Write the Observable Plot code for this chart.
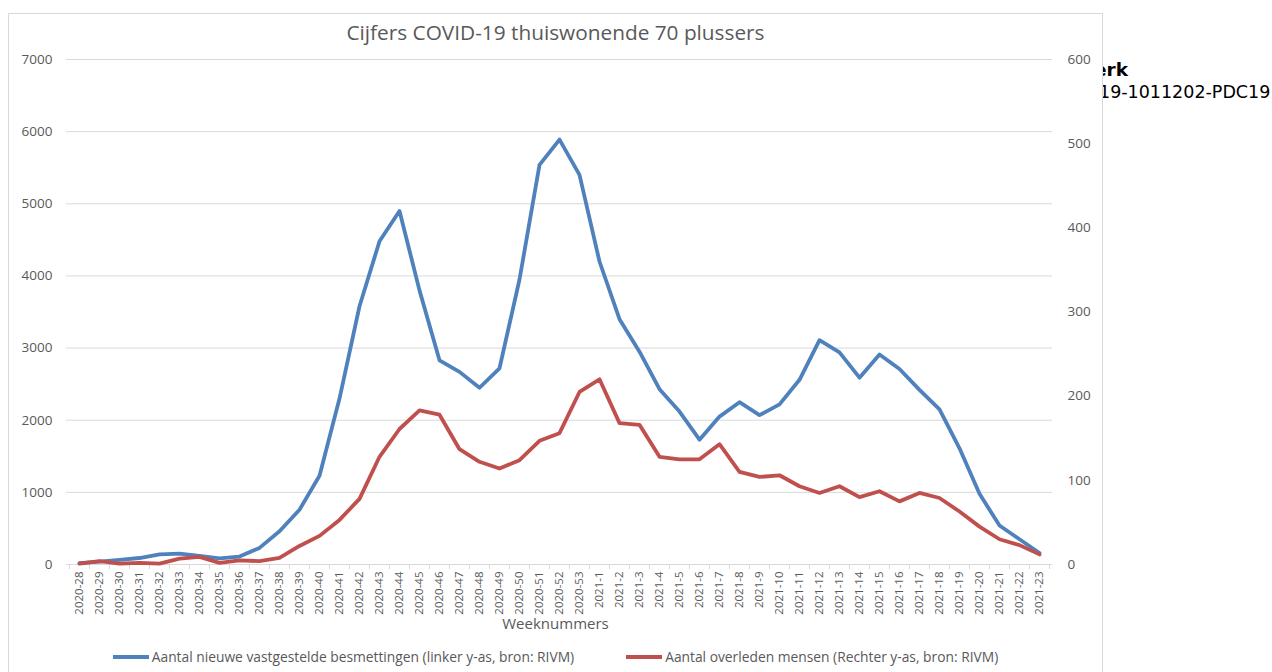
<!DOCTYPE html>
<html>
<head>
<meta charset="utf-8">
<script src="https://cdn.jsdelivr.net/npm/d3@7"></script>
<script src="https://cdn.jsdelivr.net/npm/@observablehq/plot@0.6"></script>
<style>
  html, body { margin: 0; padding: 0; background: #fff; }
  body { width: 1272px; height: 672px; position: relative; overflow: hidden; font-family: "Open Sans", sans-serif; }
  .bg1 { position: absolute; left: 1094px; top: 59px; font-family: "DejaVu Sans", sans-serif; font-weight: bold; font-size: 18.5px; color: #000; }
  .bg2 { position: absolute; left: 1099px; top: 82px; font-family: "DejaVu Sans", sans-serif; font-size: 17.5px; color: #000; }
  #frame { position: absolute; left: 8px; top: 13px; width: 1093px; height: 700px; border: 1px solid #d9d9d9; background: #fff; z-index: 2; }
  #title { position: absolute; left: 0; top: 5px; width: 100%; text-align: center; font-size: 20.8px; line-height: 26px; color: #595959; }
  #chart { position: absolute; left: 0; top: 31px; }
  #xlabel { position: absolute; left: 0; top: 599px; width: 100%; text-align: center; font-size: 15px; line-height: 20px; color: #595959; }
  #legend { position: absolute; left: 0; top: 634px; width: 100%; display: flex; justify-content: center; gap: 52px; font-size: 13.8px; line-height: 18px; color: #595959; }
  .item { display: flex; align-items: center; }
  .sw { display: inline-block; width: 36px; height: 4px; margin-right: 3px; }
</style>
</head>
<body>
<div class="bg1">erk</div>
<div class="bg2">19-1011202-PDC19</div>
<div id="frame">
  <div id="title"></div>
  <div id="chart"></div>
  <div id="xlabel"></div>
  <div id="legend"></div>
</div>
<script>
const titleText = "Cijfers COVID-19 thuiswonende 70 plussers";
const xTitle = "Weeknummers";
const seriesNames = [
  "Aantal nieuwe vastgestelde besmettingen (linker y-as, bron: RIVM)",
  "Aantal overleden mensen (Rechter y-as, bron: RIVM)"
];
const seriesColors = ["#4F81BD", "#C0504D"];

const weeks = [
  "2020-28","2020-29","2020-30","2020-31","2020-32","2020-33","2020-34","2020-35","2020-36","2020-37",
  "2020-38","2020-39","2020-40","2020-41","2020-42","2020-43","2020-44","2020-45","2020-46","2020-47",
  "2020-48","2020-49","2020-50","2020-51","2020-52","2020-53",
  "2021-1","2021-2","2021-3","2021-4","2021-5","2021-6","2021-7","2021-8","2021-9","2021-10",
  "2021-11","2021-12","2021-13","2021-14","2021-15","2021-16","2021-17","2021-18","2021-19","2021-20",
  "2021-21","2021-22","2021-23"
];
const besmettingen = [
  20, 40, 65, 90, 140, 150, 120, 85, 110, 230,
  460, 760, 1230, 2300, 3580, 4480, 4900, 3800, 2830, 2670,
  2450, 2720, 3950, 5540, 5890, 5400,
  4200, 3400, 2950, 2430, 2120, 1730, 2050, 2250, 2070, 2220,
  2560, 3110, 2940, 2590, 2910, 2710, 2420, 2150, 1610, 980,
  540, 350, 160
];
const overleden = [
  1, 4, 1, 2, 1, 7, 9, 2, 5, 4,
  8, 22, 34, 53, 78, 128, 161, 183, 178, 137,
  122, 114, 124, 147, 156, 205,
  220, 168, 166, 128, 125, 125, 143, 110, 104, 106,
  93, 85, 93, 80, 87, 75, 85, 79, 63, 45,
  30, 23, 12
];
const leftTicks = [0, 1000, 2000, 3000, 4000, 5000, 6000, 7000];
const rightTicks = [0, 100, 200, 300, 400, 500, 600];

const k = 7000 / 600;
const rows = weeks.map((w, i) => ({week: w, besm: besmettingen[i], overl: overleden[i]}));

const W = 1093, H = 590, ML = 57, MR = 50, MT = 14, MB = 71;
const half = (W - ML - MR) / weeks.length / 2;
const grey = "#d9d9d9";
const textCol = "#595959";

const chart = Plot.plot({
  width: W, height: H,
  marginLeft: ML, marginRight: MR, marginTop: MT, marginBottom: MB,
  style: {fontFamily: "Open Sans, sans-serif", fontSize: "13.5px", color: textCol, background: "transparent"},
  x: {type: "point", domain: weeks, padding: 0.5, label: null},
  y: {domain: [0, 7000], label: null},
  marks: [
    Plot.ruleY(leftTicks, {stroke: grey, strokeWidth: 1}),
    Plot.ruleX(weeks, {x: d => d, y1: 0, y2: 0, dx: -half, insetBottom: -5, stroke: grey}),
    Plot.ruleX(weeks.slice(-1), {x: d => d, y1: 0, y2: 0, dx: half, insetBottom: -5, stroke: grey}),
    Plot.axisX({tickRotate: -90, tickSize: 0, tickPadding: 7, fontSize: 11.5, label: null}),
    Plot.axisY({anchor: "left", ticks: leftTicks, tickFormat: d3.format("d"), tickSize: 0, tickPadding: 14, label: null}),
    Plot.axisY({anchor: "right", ticks: rightTicks.map(t => t * k), tickFormat: d => String(Math.round(d / k)), tickSize: 0, tickPadding: 15, label: null}),
    Plot.line(rows, {x: "week", y: "besm", stroke: seriesColors[0], strokeWidth: 3.8, strokeLinejoin: "round", strokeLinecap: "round"}),
    Plot.line(rows, {x: "week", y: d => d.overl * k, stroke: seriesColors[1], strokeWidth: 3.8, strokeLinejoin: "round", strokeLinecap: "round"})
  ]
});
document.getElementById("chart").appendChild(chart);
document.getElementById("title").textContent = titleText;
document.getElementById("xlabel").textContent = xTitle;
const legend = document.getElementById("legend");
seriesNames.forEach((name, i) => {
  const item = document.createElement("div");
  item.className = "item";
  const sw = document.createElement("span");
  sw.className = "sw";
  sw.style.background = seriesColors[i];
  const t = document.createElement("span");
  t.textContent = name;
  item.appendChild(sw);
  item.appendChild(t);
  legend.appendChild(item);
});
</script>
</body>
</html>
